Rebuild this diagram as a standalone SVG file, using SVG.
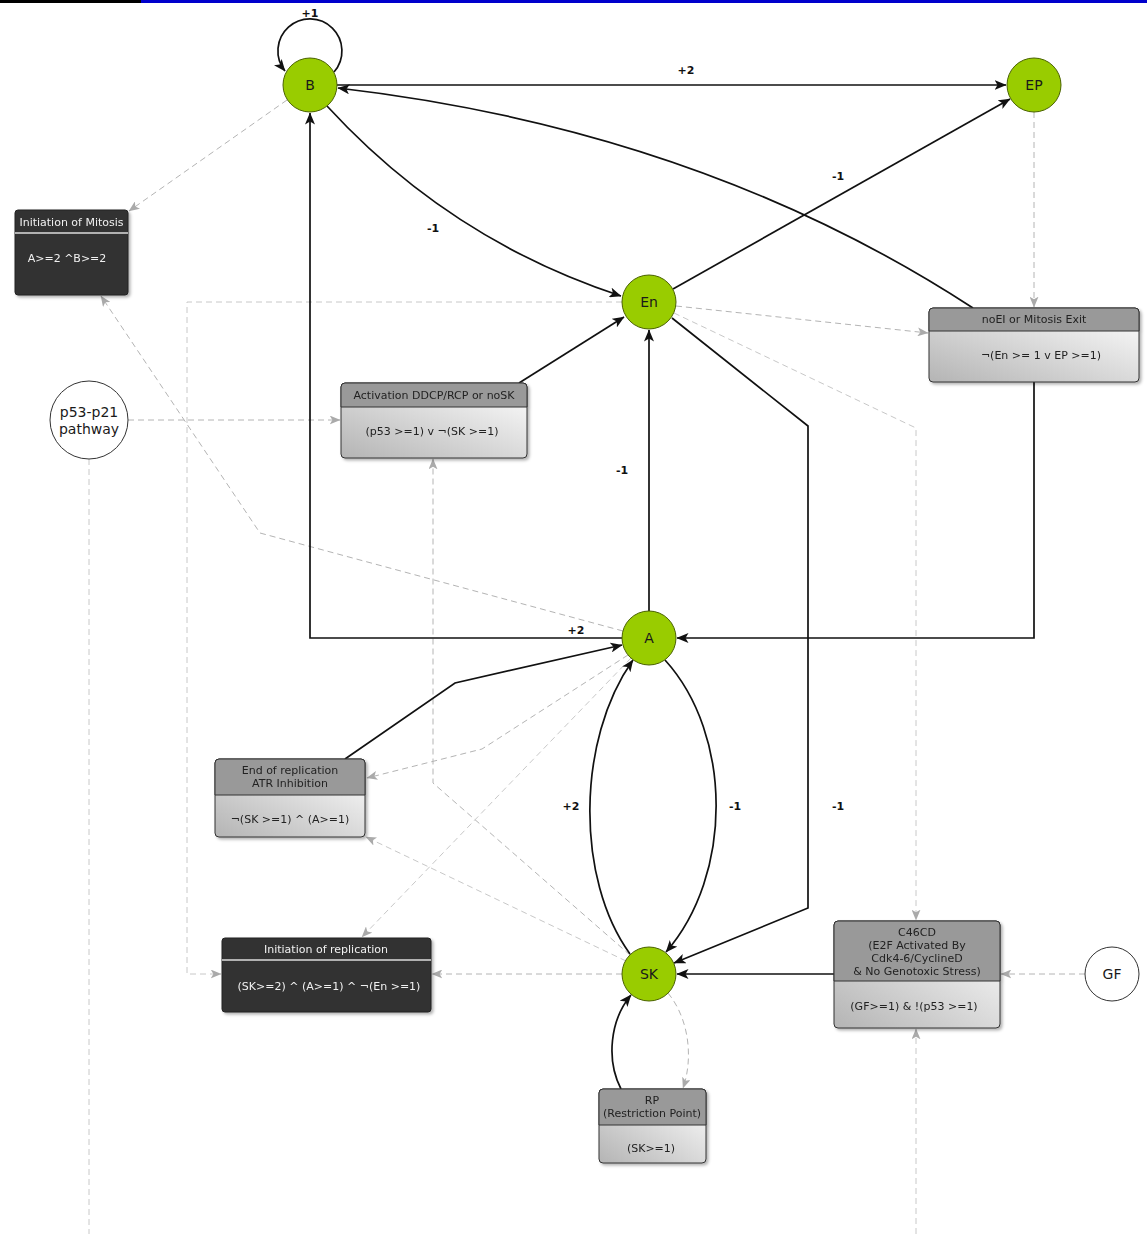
<svg xmlns="http://www.w3.org/2000/svg" width="1147" height="1234" viewBox="0 0 1147 1234">
  <style>
    text { font-family: "DejaVu Sans", "Liberation Sans", sans-serif; }
    .node circle { fill: #99cc00; stroke: #4a6200; stroke-width: 1; }
    .node text { font-size: 14px; fill: #1a1a1a; text-anchor: middle; }
    .ext circle { fill: #ffffff; stroke: #333333; stroke-width: 1; }
    .ext text { font-size: 14px; fill: #1a1a1a; text-anchor: middle; }
    .box .frame { fill: url(#bodyGrad); stroke: #333333; stroke-width: 1; }
    .box .head { fill: #999999; stroke: #333333; stroke-width: 1; }
    .box text { font-size: 11px; fill: #222222; text-anchor: middle; }
    .dark .frame { fill: #333333; stroke: #222222; stroke-width: 1; }
    .dark .sep { stroke: #dddddd; stroke-width: 1.5; }
    .dark text { font-size: 11px; fill: #f0f0f0; text-anchor: middle; }
    .edge { fill: none; stroke: #111111; stroke-width: 1.7; marker-end: url(#arrowBlack); }
    .dash { fill: none; stroke: #b4b4b4; stroke-width: 1; stroke-dasharray: 6 4; marker-end: url(#arrowGrey); }
    .dash.light { stroke: #c8c8c8; }
    .dash.plain { marker-end: none; }
    .lbl { font-size: 11px; font-weight: bold; fill: #111111; text-anchor: middle; }
  </style>
  <defs>
    <linearGradient id="bodyGrad" x1="0" y1="1" x2="1" y2="0">
      <stop offset="0" stop-color="#b4b4b4"/>
      <stop offset="1" stop-color="#ffffff"/>
    </linearGradient>
    <filter id="shadow" x="-10%" y="-10%" width="125%" height="130%">
      <feDropShadow dx="2" dy="2" stdDeviation="1.5" flood-color="#000000" flood-opacity="0.3"/>
    </filter>
    <marker id="arrowBlack" viewBox="0 0 12 10" refX="11.5" refY="5" markerWidth="12" markerHeight="10" markerUnits="userSpaceOnUse" orient="auto">
      <path d="M0,0 L12,5 L0,10 L3,5 z" fill="#111111"/>
    </marker>
    <marker id="arrowGrey" viewBox="0 0 12 10" refX="11.5" refY="5" markerWidth="11" markerHeight="9" markerUnits="userSpaceOnUse" orient="auto">
      <path d="M0,0 L12,5 L0,10 L3,5 z" fill="#aaaaaa"/>
    </marker>
  </defs>

  <rect x="0" y="0" width="1147" height="1234" fill="#ffffff"/>
  <!-- header strip -->
  <rect x="0" y="0" width="141" height="3" fill="#000000"/>
  <rect x="141" y="0" width="1006" height="3" fill="#0000cc"/>

  <g id="connectors">
    <!-- influence lines (dashed) -->
    <path class="dash" d="M287,100 L129,211"/>
    <path class="dash" d="M1034,112 V307"/>
    <path class="dash" d="M676,306 L928,333"/>
    <path class="dash light" d="M622,302 H187 V974 H221"/>
    <path class="dash light" d="M674,313 L916,428 V920"/>
    <path class="dash" d="M128,420 H340"/>
    <path class="dash light plain" d="M89,459 V1234"/>
    <path class="dash light" d="M916,1234 V1029"/>
    <path class="dash" d="M1085,974 H1001"/>
    <path class="dash" d="M668,993 C690,1020 693,1060 683,1088"/>
    <path class="dash" d="M622,974 H432"/>
    <path class="dash" d="M630,955 L433,783 V459"/>
    <path class="dash light" d="M626,961 L366,837"/>
    <path class="dash" d="M623,631 L260,533 L101,296"/>
    <path class="dash" d="M628,655 L482,749 L367,778"/>
    <path class="dash light" d="M631,658 L362,937"/>

    <!-- transitions (solid) -->
    <path class="edge" d="M334,72 A32,32 0 1 0 285,71"/>
    <path class="edge" d="M337,85 H1006"/>
    <path class="edge" d="M973,308 Q700,130 338,88"/>
    <path class="edge" d="M327,106 Q450,240 621,296"/>
    <path class="edge" d="M519,383 L624,317"/>
    <path class="edge" d="M649,611 V330"/>
    <path class="edge" d="M673,289 L1010,99"/>
    <path class="edge" d="M672,318 L808,426 V908 L674,963"/>
    <path class="edge" d="M622,638 H310 V113"/>
    <path class="edge" d="M1034,382 V638 H677"/>
    <path class="edge" d="M345,759 L455,683 L622,645"/>
    <path class="edge" d="M630,954 C576,880 576,740 633,660"/>
    <path class="edge" d="M665,660 C733,735 733,875 666,952"/>
    <path class="edge" d="M834,974 H677"/>
    <path class="edge" d="M621,1089 C606,1060 610,1020 631,995"/>

    <!-- transition weights -->
    <text class="lbl" x="310" y="17">+1</text>
    <text class="lbl" x="686" y="74">+2</text>
    <text class="lbl" x="838" y="180">-1</text>
    <text class="lbl" x="433" y="232">-1</text>
    <text class="lbl" x="622" y="474">-1</text>
    <text class="lbl" x="576" y="634">+2</text>
    <text class="lbl" x="571" y="810">+2</text>
    <text class="lbl" x="735" y="810">-1</text>
    <text class="lbl" x="838" y="810">-1</text>
  </g>

  <!-- component nodes -->
  <g id="node-B" class="node"><circle cx="310" cy="85" r="27"/><text x="310" y="90">B</text></g>
  <g id="node-EP" class="node"><circle cx="1034" cy="85" r="27"/><text x="1034" y="90">EP</text></g>
  <g id="node-En" class="node"><circle cx="649" cy="302" r="27"/><text x="649" y="307">En</text></g>
  <g id="node-A" class="node"><circle cx="649" cy="638" r="27"/><text x="649" y="643">A</text></g>
  <g id="node-SK" class="node"><circle cx="649" cy="974" r="27"/><text x="649" y="979">SK</text></g>

  <!-- external inputs -->
  <g id="node-p53" class="ext"><circle cx="89" cy="420" r="39"/><text x="89" y="417">p53-p21</text><text x="89" y="434">pathway</text></g>
  <g id="node-GF" class="ext"><circle cx="1112" cy="974" r="27"/><text x="1112" y="979">GF</text></g>

  <!-- condition boxes -->
  <g id="box-mitosis" class="dark" filter="url(#shadow)">
    <rect class="frame" x="15" y="210" width="113" height="85" rx="3"/>
    <line class="sep" x1="15" y1="233" x2="128" y2="233"/>
    <text x="71.5" y="226">Initiation of Mitosis</text>
    <text x="67" y="262">A&gt;=2 ^B&gt;=2</text>
  </g>

  <g id="box-activation" class="box" filter="url(#shadow)">
    <rect class="frame" x="341" y="383" width="186" height="75" rx="4"/>
    <path class="head" d="M341,407 V387 Q341,383 345,383 H523 Q527,383 527,387 V407 Z"/>
    <text x="434" y="399">Activation DDCP/RCP or noSK</text>
    <text x="432" y="435">(p53 &gt;=1) v ¬(SK &gt;=1)</text>
  </g>

  <g id="box-noEI" class="box" filter="url(#shadow)">
    <rect class="frame" x="929" y="308" width="210" height="74" rx="4"/>
    <path class="head" d="M929,331 V312 Q929,308 933,308 H1135 Q1139,308 1139,312 V331 Z"/>
    <text x="1034" y="323">noEI or Mitosis Exit</text>
    <text x="1041" y="359">¬(En &gt;= 1 v EP &gt;=1)</text>
  </g>

  <g id="box-endrep" class="box" filter="url(#shadow)">
    <rect class="frame" x="215" y="759" width="150" height="78" rx="4"/>
    <path class="head" d="M215,795 V763 Q215,759 219,759 H361 Q365,759 365,763 V795 Z"/>
    <text x="290" y="774">End of replication</text>
    <text x="290" y="787">ATR Inhibition</text>
    <text x="290" y="823">¬(SK &gt;=1) ^ (A&gt;=1)</text>
  </g>

  <g id="box-initrep" class="dark" filter="url(#shadow)">
    <rect class="frame" x="222" y="938" width="209" height="74" rx="3"/>
    <line class="sep" x1="222" y1="960" x2="431" y2="960"/>
    <text x="326" y="953">Initiation of replication</text>
    <text x="329" y="990">(SK&gt;=2) ^ (A&gt;=1) ^ ¬(En &gt;=1)</text>
  </g>

  <g id="box-C46CD" class="box" filter="url(#shadow)">
    <rect class="frame" x="834" y="921" width="166" height="107" rx="4"/>
    <path class="head" d="M834,981 V925 Q834,921 838,921 H996 Q1000,921 1000,925 V981 Z"/>
    <text x="917" y="936">C46CD</text>
    <text x="917" y="949">(E2F Activated By</text>
    <text x="917" y="962">Cdk4-6/CyclineD</text>
    <text x="917" y="975">&amp; No Genotoxic Stress)</text>
    <text x="914" y="1010">(GF&gt;=1) &amp; !(p53 &gt;=1)</text>
  </g>

  <g id="box-RP" class="box" filter="url(#shadow)">
    <rect class="frame" x="599" y="1089" width="107" height="74" rx="4"/>
    <path class="head" d="M599,1125 V1093 Q599,1089 603,1089 H702 Q706,1089 706,1093 V1125 Z"/>
    <text x="652" y="1104">RP</text>
    <text x="652" y="1117">(Restriction Point)</text>
    <text x="651" y="1152">(SK&gt;=1)</text>
  </g>
</svg>
